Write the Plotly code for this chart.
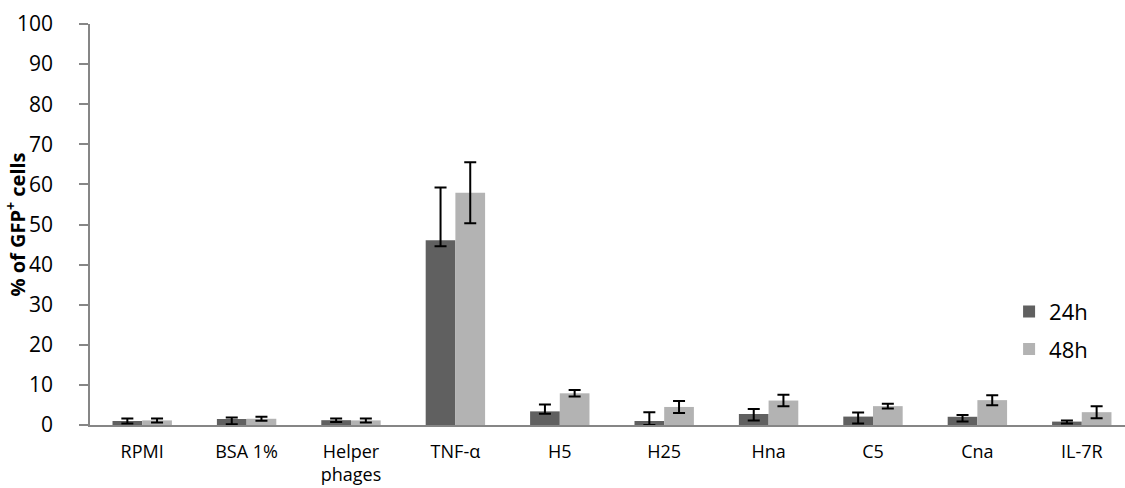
import plotly.graph_objects as go

# Treatments on the x axis
categories = ["RPMI", "BSA 1%", "Helper<br>phages", "TNF-α", "H5", "H25", "Hna", "C5", "Cna", "IL-7R"]

# % of GFP+ cells after 24 h, with upper / lower error
h24 = [1.0, 1.5, 1.2, 46.1, 3.4, 1.0, 2.75, 2.1, 2.05, 0.85]
h24_plus = [0.6, 0.4, 0.45, 13.1, 1.7, 2.2, 1.25, 1.0, 0.45, 0.3]
h24_minus = [0.6, 1.3, 0.45, 1.5, 0.6, 1.0, 1.65, 1.7, 1.2, 0.5]

# % of GFP+ cells after 48 h, with symmetric error
h48 = [1.15, 1.55, 1.15, 57.9, 7.9, 4.5, 6.1, 4.7, 6.2, 3.2]
h48_err = [0.5, 0.5, 0.5, 7.6, 0.8, 1.5, 1.45, 0.6, 1.25, 1.5]

y_ticks = [0, 10, 20, 30, 40, 50, 60, 70, 80, 90, 100]

FONT = "Open Sans"
AXIS_GREY = "#868686"

err_style = dict(color="black", thickness=2, width=6)

fig = go.Figure()
fig.add_trace(go.Bar(
    name="24h", x=categories, y=h24,
    marker=dict(color="#606060", line=dict(width=0)),
    error_y=dict(type="data", symmetric=False, array=h24_plus, arrayminus=h24_minus, **err_style),
    legendgroup="a",
))
fig.add_trace(go.Bar(
    name="48h", x=categories, y=h48,
    marker=dict(color="#b3b3b3", line=dict(width=0)),
    error_y=dict(type="data", array=h48_err, **err_style),
    legendgroup="b",
))

fig.update_layout(
    width=1125, height=488,
    margin=dict(l=90, r=0, t=24, b=63, pad=0),
    paper_bgcolor="white", plot_bgcolor="white",
    barmode="group", bargap=0.431, bargroupgap=0,
    font=dict(family=FONT, color="black"),
    showlegend=True,
    legend=dict(
        x=0.888, y=0.335, xanchor="left", yanchor="top",
        font=dict(size=22, family=FONT, color="black"),
        bgcolor="rgba(0,0,0,0)", tracegroupgap=6,
        itemsizing="constant",
    ),
    xaxis=dict(
        type="category", range=[-0.5, 9.414],
        showline=True, linecolor=AXIS_GREY, linewidth=2,
        ticks="", showgrid=False, zeroline=False,
        tickfont=dict(size=18, family=FONT, color="black"),
        ticklabelstandoff=9,
    ),
    yaxis=dict(
        range=[0, 100], tickvals=y_ticks,
        showline=True, linecolor=AXIS_GREY, linewidth=1.5,
        ticks="outside", ticklen=9, tickcolor=AXIS_GREY, tickwidth=1.5,
        showgrid=False, zeroline=False,
        tickfont=dict(size=21, family=FONT, color="black"),
        ticklabelstandoff=22,
    ),
    annotations=[dict(
        text="<b>% of GFP<sup>+</sup> cells</b>",
        xref="paper", yref="paper", x=-0.0715, y=0.5,
        xanchor="center", yanchor="middle", textangle=-90,
        showarrow=False, font=dict(size=20, family=FONT, color="black"),
    )],
)

fig.write_html("out.html")
